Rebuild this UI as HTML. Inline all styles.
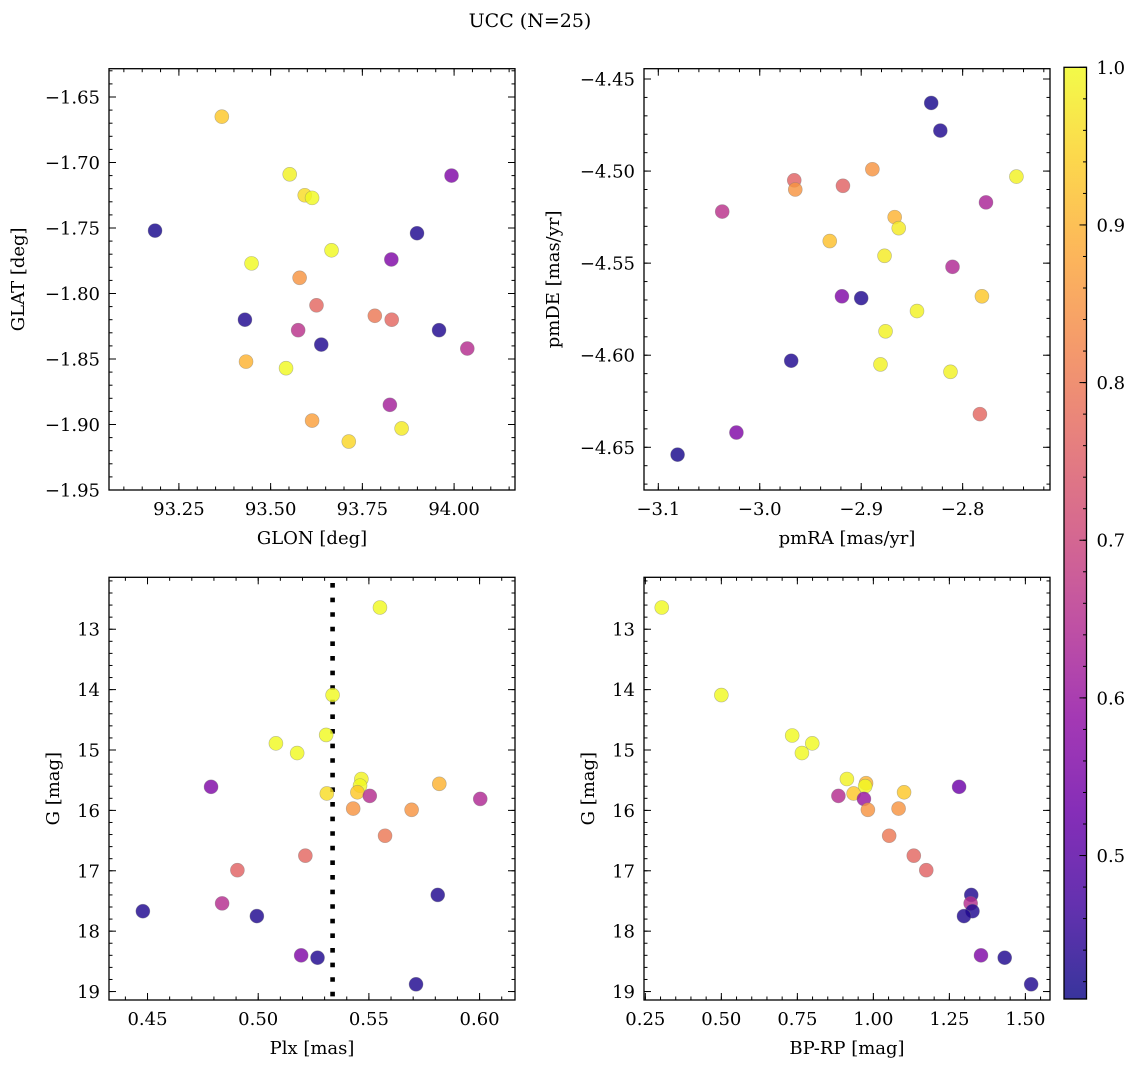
<!DOCTYPE html>
<html><head><meta charset="utf-8">
<style>
html,body{margin:0;padding:0;background:#fff;}
svg{display:block;font-family:"DejaVu Serif","Liberation Serif",serif;}
</style></head>
<body>
<svg id="fig" width="1136" height="1067" viewBox="0 0 1136 1067" xmlns="http://www.w3.org/2000/svg">
<defs>
<linearGradient id="cbgrad" x1="0" y1="1" x2="0" y2="0"></linearGradient>
</defs>
<text x="530" y="27" font-size="19" text-anchor="middle">UCC (N=25)</text>
</svg>
<script>
// ---- data ----
const pmin = 0.409, pmax = 1.0;
// Panel 1: GLON vs GLAT
const glonVals = [93.367,93.552,93.593,93.613,93.185,93.993,93.899,93.666,93.448,93.829,93.579,93.625,93.784,93.830,93.430,93.575,93.638,93.959,94.036,93.433,93.542,93.825,93.613,93.713,93.857];
const glatVals = [-1.665,-1.709,-1.725,-1.727,-1.752,-1.710,-1.754,-1.767,-1.777,-1.774,-1.788,-1.809,-1.817,-1.820,-1.820,-1.828,-1.839,-1.828,-1.842,-1.852,-1.857,-1.885,-1.897,-1.913,-1.903];
const probPos = [0.93,0.99,0.96,1.0,0.42,0.56,0.43,1.0,1.0,0.56,0.85,0.77,0.80,0.77,0.43,0.66,0.43,0.43,0.65,0.90,1.0,0.62,0.87,0.95,0.98];
// Panel 2: pmRA vs pmDE
const pmraVals = [-2.831,-2.822,-2.747,-2.966,-2.965,-2.918,-2.889,-3.037,-2.777,-2.867,-2.863,-2.931,-2.877,-2.810,-2.919,-2.900,-2.781,-2.845,-2.876,-2.969,-2.881,-2.812,-2.783,-3.023,-3.081];
const pmdeVals = [-4.463,-4.478,-4.503,-4.505,-4.510,-4.508,-4.499,-4.522,-4.517,-4.525,-4.531,-4.538,-4.546,-4.552,-4.568,-4.569,-4.568,-4.576,-4.587,-4.603,-4.605,-4.609,-4.632,-4.642,-4.654];
const probPm = [0.42,0.43,0.99,0.76,0.85,0.76,0.85,0.66,0.63,0.90,0.98,0.92,0.98,0.64,0.56,0.43,0.93,0.99,0.99,0.43,0.99,0.99,0.77,0.56,0.42];
// Panel 3: Plx vs G
const plxVals = [0.555,0.5336,0.508,0.5176,0.5307,0.531,0.5466,0.546,0.5448,0.5504,0.5818,0.6003,0.5429,0.5693,0.4787,0.5573,0.5213,0.4906,0.4837,0.4479,0.4994,0.5811,0.5194,0.5268,0.5713];
const gPlxVals = [12.64,14.09,14.89,15.05,14.75,15.72,15.48,15.59,15.70,15.76,15.56,15.81,15.97,15.99,15.61,16.42,16.75,16.99,17.54,17.67,17.75,17.40,18.40,18.44,18.88];
const probPlx = [1.0,1.0,1.0,1.0,1.0,0.96,0.99,1.0,0.93,0.65,0.90,0.64,0.85,0.85,0.56,0.80,0.77,0.76,0.65,0.43,0.43,0.43,0.56,0.43,0.43];
const plxLine = 0.5336;
// Panel 4: BP-RP vs G
const bprpVals = [0.304,0.500,0.733,0.799,0.765,0.913,0.976,0.973,0.935,1.101,0.885,0.969,0.982,1.083,1.282,1.052,1.133,1.174,1.322,1.320,1.326,1.298,1.354,1.432,1.519];
const gCmdVals = [12.64,14.09,14.76,14.89,15.05,15.48,15.55,15.60,15.72,15.70,15.76,15.81,15.99,15.97,15.61,16.42,16.75,16.99,17.40,17.54,17.67,17.75,18.40,18.44,18.88];
const probCmd = [1.0,1.0,1.0,1.0,1.0,0.99,0.90,1.0,0.93,0.93,0.65,0.60,0.85,0.85,0.53,0.80,0.77,0.76,0.43,0.65,0.43,0.43,0.56,0.43,0.43];
// tick labels
const tlXTicks = ["93.25","93.50","93.75","94.00"];
const tlYTicks = ["-1.65","-1.70","-1.75","-1.80","-1.85","-1.90","-1.95"];
const trXTicks = ["-3.1","-3.0","-2.9","-2.8"];
const trYTicks = ["-4.45","-4.50","-4.55","-4.60","-4.65"];
const blXTicks = ["0.45","0.50","0.55","0.60"];
const gTicks = ["13","14","15","16","17","18","19"];
const brXTicks = ["0.25","0.50","0.75","1.00","1.25","1.50"];
const cbTicks = ["0.5","0.6","0.7","0.8","0.9","1.0"];

const NS = "http://www.w3.org/2000/svg";
const svg = document.getElementById('fig');
const FS = 18;
function el(tag, attrs, parent){
  const e = document.createElementNS(NS, tag);
  for (const k in attrs) e.setAttribute(k, attrs[k]);
  (parent||svg).appendChild(e);
  return e;
}
const plasma = [[13,8,135],[65,4,157],[106,0,168],[143,13,164],[177,42,144],[204,71,120],[225,100,98],[242,132,75],[252,166,54],[252,206,37],[240,249,33]];
function cmap(p){
  let t = (p - pmin)/(pmax - pmin); t = Math.max(0, Math.min(1, t));
  const f = t*10, i = Math.min(9, Math.floor(f)), r = f - i;
  const a = plasma[i], b = plasma[i+1];
  return 'rgb(' + [0,1,2].map(k => Math.round(a[k] + (b[k]-a[k])*r)).join(',') + ')';
}
function fmt(s){ return s.replace('-', '\u2212'); }

function panel(cfg){
  const {name, x0, x1, y0, y1, xmin, xmax, ymin, ymax, inv, xTicks, yTicks, xMinor, yMinor, xLabel, yLabel, yLabelX} = cfg;
  const sx = v => x0 + (v - xmin)/(xmax - xmin)*(x1 - x0);
  const sy = v => inv ? y0 + (v - ymin)/(ymax - ymin)*(y1 - y0) : y1 - (v - ymin)/(ymax - ymin)*(y1 - y0);
  const g = el('g', {});
  
  
  const lo = Math.min(xmin,xmax), hi = Math.max(xmin,xmax);
  for (let k = Math.ceil(lo/xMinor - 1e-6); k*xMinor <= hi + 1e-9; k++){
    const px = sx(k*xMinor);
    el('line', {x1:px, x2:px, y1:y1, y2:y1-3.5, stroke:'#000','stroke-width':1}, g);
    el('line', {x1:px, x2:px, y1:y0, y2:y0+3.5, stroke:'#000','stroke-width':1}, g);
  }
  const ylo = Math.min(ymin,ymax), yhi = Math.max(ymin,ymax);
  for (let k = Math.ceil(ylo/yMinor - 1e-6); k*yMinor <= yhi + 1e-9; k++){
    const py = sy(k*yMinor);
    el('line', {x1:x0, x2:x0+3.5, y1:py, y2:py, stroke:'#000','stroke-width':1}, g);
    el('line', {x1:x1, x2:x1-3.5, y1:py, y2:py, stroke:'#000','stroke-width':1}, g);
  }
  xTicks.forEach(s => {
    const px = sx(parseFloat(s));
    el('line', {x1:px, x2:px, y1:y1, y2:y1-7, stroke:'#000','stroke-width':1}, g);
    el('line', {x1:px, x2:px, y1:y0, y2:y0+7, stroke:'#000','stroke-width':1}, g);
    const t = el('text', {x:px, y:y1+25, 'font-size':FS, 'text-anchor':'middle'}, g);
    t.textContent = fmt(s);
    
    
  });
  yTicks.forEach(s => {
    const py = sy(parseFloat(s));
    el('line', {x1:x0, x2:x0+7, y1:py, y2:py, stroke:'#000','stroke-width':1}, g);
    el('line', {x1:x1, x2:x1-7, y1:py, y2:py, stroke:'#000','stroke-width':1}, g);
    const t = el('text', {x:x0-9, y:py+6.5, 'font-size':FS, 'text-anchor':'end'}, g);
    t.textContent = fmt(s);
    
    
  });
  const frame = el('rect', {x:x0, y:y0, width:x1-x0, height:y1-y0, fill:'none', stroke:'#000', 'stroke-width':1.3}, g);
  
  
  const xl = el('text', {x:(x0+x1)/2, y:y1+54, 'font-size':FS, 'text-anchor':'middle'}, g);
  xl.textContent = xLabel;
  
  
  const yc = (y0+y1)/2;
  const yl = el('text', {x:yLabelX, y:yc, 'font-size':FS, 'text-anchor':'middle', transform:'rotate(-90 '+yLabelX+' '+yc+')'}, g);
  yl.textContent = yLabel;
  
  
  return {g, sx, sy};
}
function scatter(p, name, xs, ys, ps){
  xs.forEach((v, i) => {
    const c = el('circle', {cx:p.sx(v), cy:p.sy(ys[i]), r:7, fill:cmap(ps[i]), 'fill-opacity':0.82, stroke:'#777', 'stroke-opacity':0.5, 'stroke-width':0.6}, p.g);
    
    
  });
}

const p1 = panel({name:'glon-glat', x0:109, x1:515, y0:68.7, y1:490, xmin:93.0595, xmax:94.166, ymin:-1.6284, ymax:-1.95, inv:true,
  xTicks:tlXTicks, yTicks:tlYTicks, xMinor:0.05, yMinor:0.01, xLabel:'GLON [deg]', yLabel:'GLAT [deg]', yLabelX:24});
scatter(p1, 'glon-glat', glonVals, glatVals, probPos);

const p2 = panel({name:'pm', x0:644, x1:1050, y0:68.7, y1:490, xmin:-3.1141, xmax:-2.7139, ymin:-4.6732, ymax:-4.4444, inv:false,
  xTicks:trXTicks, yTicks:trYTicks, xMinor:0.02, yMinor:0.01, xLabel:'pmRA [mas/yr]', yLabel:'pmDE [mas/yr]', yLabelX:559});
scatter(p2, 'pm', pmraVals, pmdeVals, probPm);

const p3 = panel({name:'plx-g', x0:109, x1:515, y0:577.3, y1:1000, xmin:0.4326, xmax:0.616, ymin:12.14, ymax:19.14, inv:true,
  xTicks:blXTicks, yTicks:gTicks, xMinor:0.01, yMinor:0.2, xLabel:'Plx [mas]', yLabel:'G [mag]', yLabelX:59});
const lx = p3.sx(plxLine);
const dl = el('line', {x1:lx, x2:lx, y1:583, y2:1000, stroke:'#000', 'stroke-width':4.6, 'stroke-dasharray':'4.6 10'}, p3.g);


scatter(p3, 'plx-g', plxVals, gPlxVals, probPlx);

const p4 = panel({name:'cmd', x0:644, x1:1050, y0:577.3, y1:1000, xmin:0.2456, xmax:1.581, ymin:12.14, ymax:19.14, inv:true,
  xTicks:brXTicks, yTicks:gTicks, xMinor:0.05, yMinor:0.2, xLabel:'BP-RP [mag]', yLabel:'G [mag]', yLabelX:594});
scatter(p4, 'cmd', bprpVals, gCmdVals, probCmd);

// colorbar
const grad = document.getElementById('cbgrad');
for (let i = 0; i <= 20; i++){
  const p = pmin + (pmax-pmin)*i/20;
  el('stop', {offset:(i/20), 'stop-color':cmap(p), 'stop-opacity':0.82}, grad);
}
const cbx0 = 1064, cbx1 = 1086.5, cby0 = 67.3, cby1 = 999;
const cbY = v => cby1 - (v - pmin)/(pmax - pmin)*(cby1 - cby0);
const cbg = el('g', {});


el('rect', {x:cbx0, y:cby0, width:cbx1-cbx0, height:cby1-cby0, fill:'url(#cbgrad)'}, cbg);
for (let k = 21; k <= 50; k++){
  const v = k*0.02; if (v < pmin) continue;
  const py = cbY(v);
  el('line', {x1:cbx1, x2:cbx1-3.5, y1:py, y2:py, stroke:'#000', 'stroke-width':1}, cbg);
}
cbTicks.forEach(s => {
  const py = cbY(parseFloat(s));
  el('line', {x1:cbx1, x2:cbx1-7, y1:py, y2:py, stroke:'#000', 'stroke-width':1}, cbg);
  const t = el('text', {x:cbx1+10, y:py+6.5, 'font-size':FS}, cbg);
  t.textContent = s;
  
  
});
el('rect', {x:cbx0, y:cby0, width:cbx1-cbx0, height:cby1-cby0, fill:'none', stroke:'#000', 'stroke-width':1.3}, cbg);
</script>
</body></html>
